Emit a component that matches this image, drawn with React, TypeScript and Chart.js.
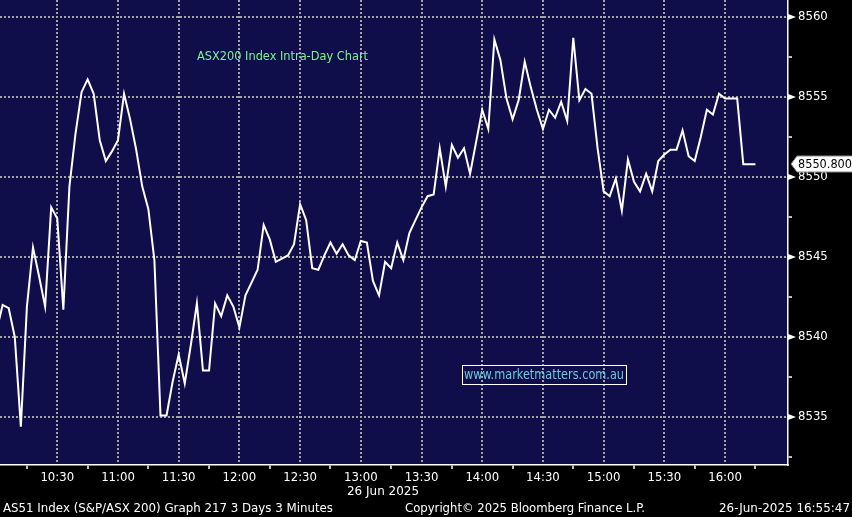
import React, { useEffect, useRef } from 'react';
import { Chart, registerables } from 'chart.js';

Chart.register(...registerables);

// ---- Data (3-minute bars, 26 Jun 2025) ----
const times: string[] = [
  '10:00','10:03','10:06','10:09','10:12','10:15','10:18','10:21','10:24','10:27','10:30','10:33','10:36','10:39','10:42','10:45','10:48','10:51','10:54','10:57',
  '11:00','11:03','11:06','11:09','11:12','11:15','11:18','11:21','11:24','11:27','11:30','11:33','11:36','11:39','11:42','11:45','11:48','11:51','11:54','11:57',
  '12:00','12:03','12:06','12:09','12:12','12:15','12:18','12:21','12:24','12:27','12:30','12:33','12:36','12:39','12:42','12:45','12:48','12:51','12:54','12:57',
  '13:00','13:03','13:06','13:09','13:12','13:15','13:18','13:21','13:24','13:27','13:30','13:33','13:36','13:39','13:42','13:45','13:48','13:51','13:54','13:57',
  '14:00','14:03','14:06','14:09','14:12','14:15','14:18','14:21','14:24','14:27','14:30','14:33','14:36','14:39','14:42','14:45','14:48','14:51','14:54','14:57',
  '15:00','15:03','15:06','15:09','15:12','15:15','15:18','15:21','15:24','15:27','15:30','15:33','15:36','15:39','15:42','15:45','15:48','15:51','15:54','15:57',
  '16:00','16:03','16:06','16:09','16:12','16:15',
];

const prices: number[] = [
  8540.4, 8542.0, 8541.8, 8540.0, 8534.4, 8541.9, 8545.6, 8543.8, 8541.9, 8548.1, 8547.4, 8541.7, 8549.4, 8552.7, 8555.3, 8556.1, 8555.2, 8552.3, 8551.0, 8551.6,
  8552.3, 8555.2, 8553.6, 8551.7, 8549.4, 8548.0, 8544.8, 8535.1, 8535.1, 8537.2, 8538.9, 8537.1, 8539.5, 8542.1, 8537.9, 8537.9, 8542.1, 8541.3, 8542.6, 8541.9,
  8540.6, 8542.6, 8543.4, 8544.2, 8547.0, 8546.1, 8544.7, 8544.9, 8545.1, 8545.8, 8548.3, 8547.3, 8544.3, 8544.2, 8545.1, 8545.9, 8545.2, 8545.8, 8545.1, 8544.8,
  8546.0, 8545.9, 8543.5, 8542.6, 8544.7, 8544.3, 8545.9, 8544.8, 8546.5, 8547.3, 8548.1, 8548.8, 8548.9, 8551.8, 8549.4, 8552.0, 8551.2, 8551.8, 8550.2, 8552.2,
  8554.2, 8553.0, 8558.6, 8557.3, 8554.9, 8553.6, 8554.8, 8557.2, 8555.6, 8554.2, 8553.0, 8554.2, 8553.7, 8554.7, 8553.5, 8558.7, 8554.8, 8555.5, 8555.2, 8551.8,
  8549.1, 8548.8, 8549.9, 8547.9, 8551.1, 8549.7, 8549.1, 8550.2, 8549.1, 8551.0, 8551.4, 8551.7, 8551.7, 8552.9, 8551.3, 8551.0, 8552.5, 8554.2, 8553.9, 8555.2,
  8554.9, 8554.9, 8554.9, 8550.8, 8550.8, 8550.8,
];

const xLabelTimes = ['10:30', '11:00', '11:30', '12:00', '12:30', '13:00', '13:30', '14:00', '14:30', '15:00', '15:30', '16:00'];
const xMinorTimes = ['10:15', '10:45', '11:15', '11:45', '12:15', '12:45', '13:15', '13:45', '14:15', '14:45', '15:15', '15:45', '16:15'];
const yMajorTicks = [8535, 8540, 8545, 8550, 8555, 8560];
const yMinorTicks = [8532.5, 8537.5, 8542.5, 8547.5, 8552.5, 8557.5];
const xRange = ['10:01.7', '16:31.1'];
const yRange = [8532, 8561.06];
const lastPrice = 8550.8;

const titleText = 'ASX200 Index Intra-Day Chart';
const watermarkText = 'www.marketmatters.com.au';
const dateText = '26 Jun 2025';
const footerLeft = 'AS51 Index (S&P/ASX 200) Graph 217 3 Days 3 Minutes';
const footerMid = 'Copyright\u00A9 2025 Bloomberg Finance L.P.';
const footerRight = '26-Jun-2025 16:55:47';

// ---- helpers ----
const toMin = (s: string) => {
  const [h, m] = s.split(':');
  return parseInt(h, 10) * 60 + parseFloat(m);
};
const fmt = (v: number) => {
  const h = Math.floor(v / 60);
  const m = Math.round(v - h * 60);
  return `${h}:${m < 10 ? '0' : ''}${m}`;
};

const FONT = "'DejaVu Sans Condensed', 'DejaVu Sans', 'Liberation Sans', sans-serif";
const NAVY = '#100e4a';
const GRID = '#a3a3a8';

const xLabelSet = new Set(xLabelTimes.map(toMin));
const yMajorSet = new Set(yMajorTicks);

function fitText(ctx: CanvasRenderingContext2D, text: string, x: number, y: number, width: number, size: number, color: string) {
  ctx.save();
  ctx.font = `${size}px ${FONT}`;
  ctx.fillStyle = color;
  ctx.textBaseline = 'middle';
  ctx.textAlign = 'left';
  const w = ctx.measureText(text).width;
  ctx.translate(x, y);
  ctx.scale(width / w, 1);
  ctx.fillText(text, 0, 0);
  ctx.restore();
}

const backgroundPlugin = {
  id: 'bbgBackground',
  beforeDraw(chart: any) {
    const { ctx, chartArea } = chart;
    ctx.save();
    ctx.fillStyle = '#000';
    ctx.fillRect(0, 0, chart.width, chart.height);
    ctx.fillStyle = NAVY;
    ctx.fillRect(chartArea.left, chartArea.top, chartArea.right - chartArea.left, chartArea.bottom - chartArea.top);
    ctx.restore();
  },
};

const overlayPlugin = {
  id: 'bbgOverlay',
  afterDraw(chart: any) {
    const { ctx, chartArea, scales } = chart;
    const ys = scales.y;
    const ax = chartArea.right;
    ctx.save();
    // tick flags on the price axis
    ctx.fillStyle = '#fff';
    yMajorTicks.forEach((v) => {
      const py = Math.round(ys.getPixelForValue(v));
      ctx.beginPath();
      ctx.moveTo(ax, py - 3);
      ctx.lineTo(ax + 8, py);
      ctx.lineTo(ax, py + 3);
      ctx.closePath();
      ctx.fill();
    });
    // last price tag
    const lp = Math.round(ys.getPixelForValue(lastPrice));
    ctx.fillStyle = '#fff';
    ctx.strokeStyle = '#888';
    ctx.lineWidth = 1;
    ctx.beginPath();
    ctx.moveTo(ax + 3, lp);
    ctx.lineTo(ax + 9, lp - 8);
    ctx.lineTo(chart.width + 2, lp - 8);
    ctx.lineTo(chart.width + 2, lp + 8);
    ctx.lineTo(ax + 9, lp + 8);
    ctx.closePath();
    ctx.fill();
    ctx.stroke();
    fitText(ctx, lastPrice.toFixed(3), ax + 10, lp + 1, 54, 13, '#000');

    // title
    fitText(ctx, titleText, 197, 56.5, 171, 13, '#7df58e');

    // watermark box
    ctx.strokeStyle = '#fff';
    ctx.lineWidth = 1;
    ctx.strokeRect(462.5, 365.5, 164, 19);
    fitText(ctx, watermarkText, 464, 375.5, 160, 14, '#6cc8dc');

    // date under time axis
    fitText(ctx, dateText, 347, 491.5, 72, 13, '#fff');

    // footer
    fitText(ctx, footerLeft, 3, 508.5, 330, 13, '#fff');
    fitText(ctx, footerMid, 405, 508.5, 240, 13, '#fff');
    fitText(ctx, footerRight, 719, 508.5, 131, 13, '#fff');
    ctx.restore();
  },
};

export default function App() {
  const ref = useRef<HTMLCanvasElement | null>(null);

  useEffect(() => {
    if (!ref.current) return;
    const points = times.map((t, i) => ({ x: toMin(t), y: prices[i] }));
    const xTicks = [...xMinorTimes, ...xLabelTimes].map(toMin).sort((a, b) => a - b);
    const yTicks = [...yMinorTicks, ...yMajorTicks].sort((a, b) => a - b);

    const chart = new Chart(ref.current, {
      type: 'line',
      data: {
        datasets: [
          {
            data: points,
            borderColor: '#ffffff',
            borderWidth: 2,
            pointRadius: 0,
            tension: 0,
            fill: false,
          },
        ],
      },
      options: {
        responsive: false,
        animation: false,
        devicePixelRatio: 1,
        layout: { padding: 0 },
        plugins: {
          legend: { display: false },
          tooltip: { enabled: false },
          title: { display: false },
        },
        scales: {
          x: {
            type: 'linear',
            position: 'bottom',
            min: toMin(xRange[0]),
            max: toMin(xRange[1]),
            afterFit: (s: any) => { s.height = 52; s.paddingLeft = 0; s.paddingRight = 0; s.paddingTop = 0; s.paddingBottom = 0; },
            afterBuildTicks: (s: any) => { s.ticks = xTicks.map((v) => ({ value: v })); },
            ticks: {
              autoSkip: false,
              maxRotation: 0,
              minRotation: 0,
              padding: 1,
              color: '#ffffff',
              font: { family: FONT, size: 13 },
              callback: (v: any) => (xLabelSet.has(Number(v)) ? fmt(Number(v)) : ''),
            },
            grid: {
              color: (c: any) => (c.tick && xLabelSet.has(c.tick.value) ? GRID : 'rgba(0,0,0,0)'),
              lineWidth: 2,
              drawTicks: true,
              tickLength: 4,
              tickWidth: 1.5,
              tickColor: (c: any) => (c.tick && xLabelSet.has(c.tick.value) ? 'rgba(0,0,0,0)' : '#ffffff'),
            },
            border: { display: true, color: '#ffffff', width: 1.5, dash: [2, 2] },
          },
          y: {
            type: 'linear',
            position: 'right',
            min: yRange[0],
            max: yRange[1],
            afterFit: (s: any) => { s.width = 64; s.paddingTop = 0; s.paddingBottom = 0; s.paddingLeft = 0; s.paddingRight = 0; },
            afterBuildTicks: (s: any) => { s.ticks = yTicks.map((v) => ({ value: v })); },
            ticks: {
              autoSkip: false,
              padding: 6,
              color: '#ffffff',
              font: { family: FONT, size: 13 },
              callback: (v: any) => (yMajorSet.has(Number(v)) ? String(v) : ''),
            },
            grid: {
              color: (c: any) => (c.tick && yMajorSet.has(c.tick.value) ? GRID : 'rgba(0,0,0,0)'),
              lineWidth: 2,
              drawTicks: true,
              tickLength: 4,
              tickWidth: 1.5,
              tickColor: (c: any) => (c.tick && yMajorSet.has(c.tick.value) ? 'rgba(0,0,0,0)' : '#ffffff'),
            },
            border: { display: true, color: '#ffffff', width: 1.5, dash: [2, 2] },
          },
        },
      },
      plugins: [backgroundPlugin, overlayPlugin],
    } as any);

    return () => chart.destroy();
  }, []);

  return (
    <div style={{ position: 'fixed', left: 0, top: 0, width: 852, height: 517, background: '#000' }}>
      <canvas ref={ref} width={852} height={517} style={{ display: 'block', width: 852, height: 517 }} />
    </div>
  );
}
